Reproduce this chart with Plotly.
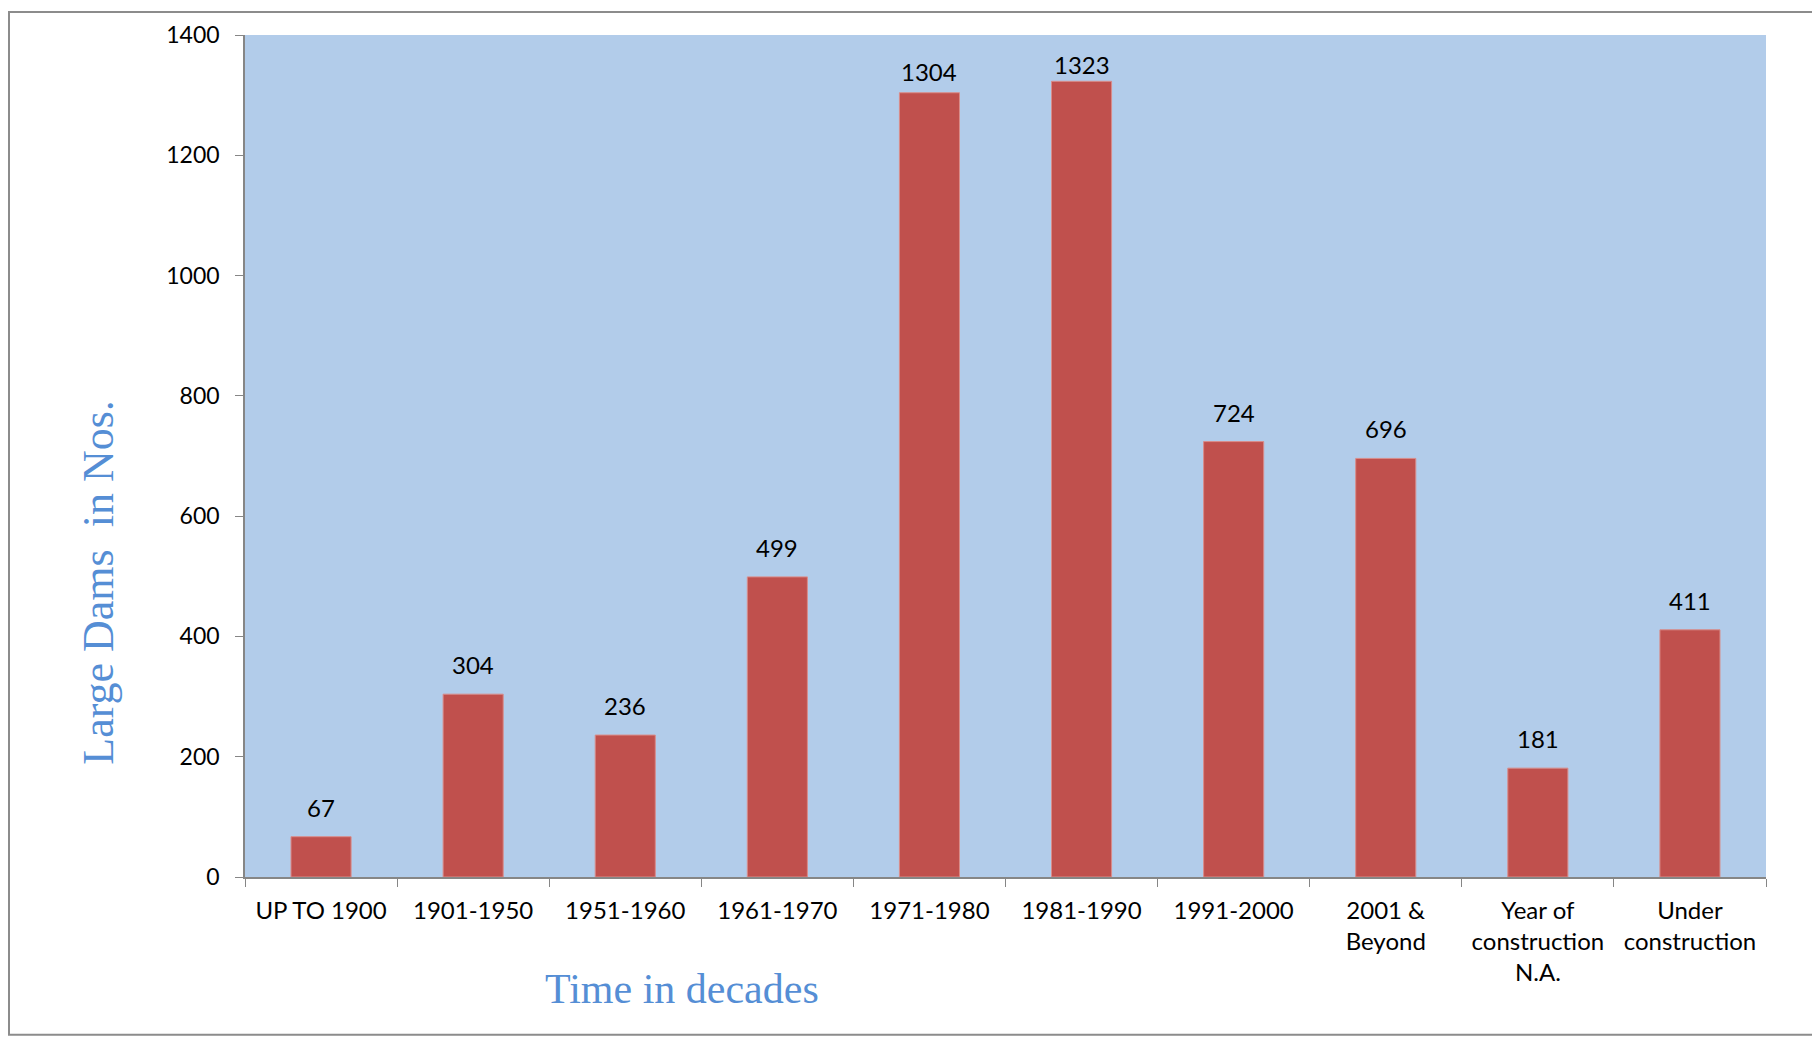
import plotly.graph_objects as go

categories = ["UP TO 1900", "1901-1950", "1951-1960", "1961-1970", "1971-1980",
              "1981-1990", "1991-2000", "2001 &<br>Beyond",
              "Year of<br>construction<br>N.A.", "Under<br>construction"]
dams = [67, 304, 236, 499, 1304, 1323, 724, 696, 181, 411]
y_ticks = [0, 200, 400, 600, 800, 1000, 1200, 1400]
y_max = 1400

W, H = 1820, 1039
OFF = 8  # page body margin
# plot area in screen coordinates: x 245..1766, y 32..877.5
L = 245 - OFF
T = 32 - OFF
R = W - (1766 - OFF)
B = H - (877.5 - OFF)
pw, ph = W - L - R, H - T - B

def px(x):
    return (x - OFF - L) / pw

def py(y):
    return (H - B - (y - OFF)) / ph

fig = go.Figure()
fig.add_trace(go.Bar(
    x=categories, y=dams,
    marker=dict(color="#C0504D", line=dict(color="#D98C8A", width=1)),
    hoverinfo="x+y",
))

annotations = []
for c, v in zip(categories, dams):
    space = (y_max - v) / y_max * ph
    shift = max(0, min(13, space - 53))
    annotations.append(dict(x=c, y=v, xref="x", yref="y", text=str(v),
                            showarrow=False, yanchor="bottom", yshift=shift,
                            font=dict(family="Lato", size=24, color="#000000")))

annotations.append(dict(x=px(99), y=py(582), xref="paper", yref="paper",
                        text="Large Dams  in Nos.", textangle=-90, showarrow=False,
                        xanchor="center", yanchor="middle",
                        font=dict(family="Liberation Serif", size=44, color="#558ED5")))
annotations.append(dict(x=px(682), y=py(990), xref="paper", yref="paper",
                        text="Time in decades", showarrow=False,
                        xanchor="center", yanchor="middle",
                        font=dict(family="Liberation Serif", size=42, color="#558ED5")))

fig.update_layout(
    width=W, height=H,
    margin=dict(l=L, r=R, t=T, b=B, pad=0),
    paper_bgcolor="#FFFFFF",
    plot_bgcolor="#B2CCEA",
    bargap=0.605,
    showlegend=False,
    annotations=annotations,
    shapes=[dict(type="rect", xref="paper", yref="paper",
                 x0=px(9), x1=px(1813), y0=py(1036), y1=py(9),
                 line=dict(color="#8C8C8C", width=2), layer="below")],
    font=dict(family="Lato", size=24, color="#000000"),
)
fig.update_xaxes(
    type="category", showline=True, linecolor="#868686", linewidth=1.5,
    ticks="outside", tickson="boundaries", ticklen=8, tickcolor="#868686",
    showgrid=False, tickfont=dict(family="Lato", size=24, color="#000000"),
    ticklabelstandoff=11,
)
fig.update_yaxes(
    range=[0, y_max], tickvals=y_ticks, showline=True, linecolor="#868686",
    linewidth=1.5, ticks="outside", ticklen=8, tickcolor="#868686",
    showgrid=False, zeroline=False,
    tickfont=dict(family="Lato", size=23, color="#000000"),
    ticklabelstandoff=11,
)

fig.write_html("out.html")
